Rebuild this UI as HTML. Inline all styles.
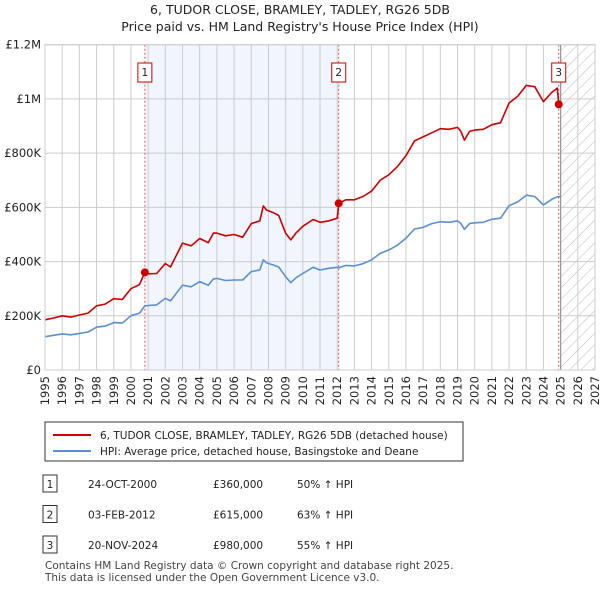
<!DOCTYPE html>
<html><head><meta charset="utf-8"><style>
body{margin:0;background:#fff;font-family:"Liberation Sans",sans-serif;}
svg text{font-family:"DejaVu Sans","Liberation Sans",sans-serif;}
</style></head><body>
<svg id="c" width="600" height="590" xmlns="http://www.w3.org/2000/svg">
<text x="300" y="14" text-anchor="middle" font-size="12.5" fill="#222">6, TUDOR CLOSE, BRAMLEY, TADLEY, RG26 5DB</text>
<text x="300" y="31" text-anchor="middle" font-size="12.5" fill="#222">Price paid vs. HM Land Registry's House Price Index (HPI)</text>
<defs><pattern id="hatch" width="8" height="8" patternUnits="userSpaceOnUse" patternTransform="rotate(45)"><line x1="0" y1="0" x2="0" y2="8" stroke="#bbb" stroke-width="1"/></pattern></defs>
<g id="plot"></g>
<rect x="45" y="422" width="418" height="39" fill="#fff" stroke="#333"/>
<line x1="53" y1="435" x2="91" y2="435" stroke="#cc0000" stroke-width="2"/>
<text x="100" y="439" font-size="10.5" fill="#222">6, TUDOR CLOSE, BRAMLEY, TADLEY, RG26 5DB (detached house)</text>
<line x1="53" y1="451" x2="91" y2="451" stroke="#5b8fd4" stroke-width="2"/>
<text x="100" y="455" font-size="10.5" fill="#222">HPI: Average price, detached house, Basingstoke and Deane</text>
<g id="tbl" font-size="10.5" fill="#222"></g>
<text x="45" y="569" font-size="10.5" fill="#444">Contains HM Land Registry data © Crown copyright and database right 2025.</text>
<text x="45" y="581" font-size="10.5" fill="#444">This data is licensed under the Open Government Licence v3.0.</text>
</svg>
<script>
const times=[1995,1995.5,1996,1996.5,1997,1997.5,1998,1998.5,1999,1999.5,2000,2000.5,2000.8,2001,2001.5,2002,2002.3,2003,2003.5,2004,2004.5,2004.8,2005,2005.5,2006,2006.5,2007,2007.5,2007.7,2007.9,2008.3,2008.6,2009,2009.3,2009.6,2010,2010.6,2011,2011.5,2012,2012.1,2012.5,2013,2013.5,2014,2014.5,2015,2015.5,2016,2016.5,2017,2017.5,2018,2018.5,2019,2019.2,2019.4,2019.7,2020,2020.5,2021,2021.5,2022,2022.5,2023,2023.5,2024,2024.5,2024.8,2024.9,2025];
const hpi=[123,128,133,130,135,140,158,162,175,173,200,210,236,238,240,264,255,313,307,326,313,336,338,330,332,332,363,369,406,395,387,380,344,322,340,356,379,369,375,379,377,386,384,392,406,430,443,460,486,520,526,540,547,545,550,540,519,540,543,545,556,560,606,620,645,640,609,630,639,639,642];
const price=[185,192,200,195,203,210,237,243,263,260,300,315,360,355,356,393,380,468,458,485,470,505,505,495,500,490,540,550,605,590,580,570,505,480,505,530,555,545,550,560,615,628,628,640,660,700,720,750,790,845,860,875,890,888,895,880,848,880,885,888,905,912,985,1010,1050,1045,990,1025,1040,980,980];
const sales=[[2000.81,360],[2012.09,615],[2024.89,980]];
const saleLabels=["1","2","3"];
const yTicks=[0,200,400,600,800,1000,1200];
const yTickLabels=["£0","£200K","£400K","£600K","£800K","£1M","£1.2M"];
const years=[];for(let y=1995;y<=2027;y++)years.push(y);
const rows=[["1","24-OCT-2000","£360,000","50% ↑ HPI"],["2","03-FEB-2012","£615,000","63% ↑ HPI"],["3","20-NOV-2024","£980,000","55% ↑ HPI"]];

const X0=45,X1=595,Y0=370,Y1=44.7;
const sx=t=>X0+(t-1995)*(X1-X0)/32;
const sy=v=>Y0-v*(Y0-Y1)/1200;
const NS="http://www.w3.org/2000/svg";
const g=document.getElementById('plot');
function mk(tag,attrs,parent){const e=document.createElementNS(NS,tag);for(const k in attrs)e.setAttribute(k,attrs[k]);(parent||g).appendChild(e);return e;}
let e;
e=mk('rect',{x:sx(sales[0][0]),y:Y1,width:sx(sales[1][0])-sx(sales[0][0]),height:Y0-Y1,fill:'#eef3fc',opacity:0.8});


e=mk('rect',{x:sx(2025),y:Y1,width:sx(2027)-sx(2025),height:Y0-Y1,fill:'url(#hatch)'});


years.forEach(y=>{e=mk('line',{x1:sx(y),x2:sx(y),y1:Y1,y2:Y0,stroke:'#ccc','stroke-width':1});


const t=mk('text',{x:0,y:0,'font-size':11.5,fill:'#222','text-anchor':'end',transform:`translate(${sx(y)+4},${Y0+6}) rotate(-90)`});t.textContent=y;

});
yTicks.forEach((v,i)=>{e=mk('line',{x1:X0,x2:X1,y1:sy(v),y2:sy(v),stroke:'#ccc','stroke-width':1});


const t=mk('text',{x:X0-4,y:sy(v)+4,'font-size':11.5,fill:'#222','text-anchor':'end'});t.textContent=yTickLabels[i];

});
e=mk('line',{x1:sx(2025),x2:sx(2025),y1:Y1,y2:Y0,stroke:'#999','stroke-width':1.2});


sales.forEach((s,i)=>{e=mk('line',{x1:sx(s[0]),x2:sx(s[0]),y1:Y1,y2:Y0,stroke:'#e55','stroke-width':1,'stroke-dasharray':'2,2'});


const b=mk('rect',{x:sx(s[0])-7,y:63,width:14,height:19,fill:'#fff',stroke:'#cc0000'});


const t=mk('text',{x:sx(s[0]),y:76,'font-size':10.5,'text-anchor':'middle',fill:'#222'});t.textContent=saleLabels[i];

});
function line(vals,color,name){const d=times.map((t,i)=>(i?'L':'M')+sx(t).toFixed(1)+','+sy(vals[i]).toFixed(1)).join('');
const p=mk('path',{d:d,fill:'none',stroke:color,'stroke-width':1.6,'stroke-linejoin':'round'});

}
line(hpi,'#5b8fd4','hpi-line');
line(price,'#cc0000','price-line');
sales.forEach(s=>{const c=mk('circle',{cx:sx(s[0]),cy:sy(s[1]),r:4,fill:'#cc0000'});

});
e=mk('rect',{x:X0,y:Y1,width:X1-X0,height:Y0-Y1,fill:'none',stroke:'#ccc'});


const tb=document.getElementById('tbl');
rows.forEach((r,i)=>{const y=487+i*30.5;
const b=mk('rect',{x:43,y:y-12,width:14,height:17,fill:'#fff',stroke:'#333'},tb);


const xs=[50,88,213,297];
r.forEach((c,j)=>{const t=mk('text',{x:xs[j],y:y+1,'text-anchor':j==0?'middle':'start'},tb);t.textContent=c;

});});
</script>
</body></html>
